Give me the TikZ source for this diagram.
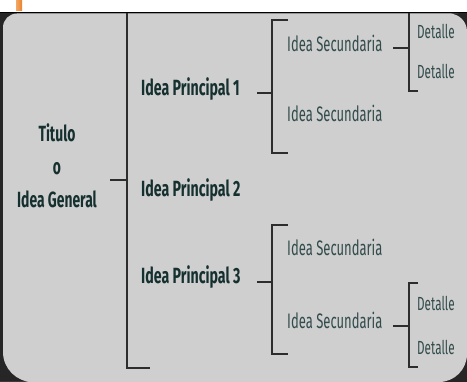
\documentclass[tikz,border=0pt]{standalone}
\usepackage{fontspec}
\usepackage{graphicx}
\setmainfont{Fira Sans}
\definecolor{bg}{RGB}{207,207,207}
\definecolor{ink}{RGB}{22,48,48}
\definecolor{ink2}{RGB}{50,75,75}
\definecolor{ln}{RGB}{45,45,45}
\definecolor{org}{RGB}{235,130,40}
\newcommand{\narp}[1]{\scalebox{0.645}[1]{#1}}
\newcommand{\nars}[1]{\scalebox{0.62}[1]{#1}}
\newcommand{\nard}[1]{\scalebox{0.616}[1]{#1}}
\newcommand{\nart}[1]{\scalebox{0.63}[1]{#1}}
\begin{document}
\begin{tikzpicture}[x=1pt,y=-1pt,
  pri/.style={font=\fontsize{22}{24}\selectfont\bfseries, text=ink, inner sep=0pt, anchor=west},
  sec/.style={font=\fontsize{21}{24}\selectfont, text=ink2, inner sep=0pt, anchor=west},
  det/.style={font=\fontsize{19}{22}\selectfont, text=ink2, inner sep=0pt, anchor=west},
  conn/.style={draw=ln, line width=1.6pt},
  brk/.style={draw=ln, line width=1.6pt}]
\useasboundingbox (0,0) rectangle (467,382);
% background
\fill[white] (0,0) rectangle (467,13);
\fill[black!85] (0,12.5) rectangle (467,382);
\fill[bg] (3,40) -- (3,355) [rounded corners=30pt] -- (3,382) -- (30,382) [sharp corners] -- (440,382) [rounded corners=28pt] -- (467,382) -- (467,355) [sharp corners] -- (467,40) [rounded corners=18pt] -- (467,13.5) -- (440,13.5) [sharp corners] -- (25,13.5) [rounded corners=14pt] -- (3,13.5) -- cycle;
\fill[bg] (3,40) rectangle (467,355);
\draw[black, line width=1.5pt] (0,12.5) -- (467,12.5);
\shade[left color=org!70!white, right color=org] (16,0) rectangle (22,11);

% title
\node[font=\fontsize{22}{33}\selectfont\bfseries, text=ink, align=center, inner sep=0pt] (t) at (57,166) {\nart{Titulo}\\\nart{o}\\\nart{Idea General}};

% principal ideas
\node[pri] (p1) at (141,89) {\narp{Idea Principal 1}};
\node[pri] (p2) at (141,190) {\narp{Idea Principal 2}};
\node[pri] (p3) at (141,277) {\narp{Idea Principal 3}};

% secondary ideas
\node[sec] (s1) at (287,43) {\nars{Idea Secundaria}};
\node[sec] (s2) at (287,113) {\nars{Idea Secundaria}};
\node[sec] (s3) at (287,247) {\nars{Idea Secundaria}};
\node[sec] (s4) at (287,320) {\nars{Idea Secundaria}};

% details
\node[det] (d1) at (417,31) {\nard{Detalle}};
\node[det] (d2) at (417,71) {\nard{Detalle}};
\node[det] (d3) at (417,303) {\nard{Detalle}};
\node[det] (d4) at (417,347) {\nard{Detalle}};

% bracket coordinates
\coordinate (m0) at (110,180);
\coordinate (mt) at (127,13.5);
\coordinate (mb) at (127,368);
\coordinate (mbe) at (150,368);
\coordinate (m1) at (127,180);

\coordinate (a0) at (257,93);
\coordinate (a1) at (272,93);
\coordinate (at) at (272,20);
\coordinate (ate) at (288,20);
\coordinate (ab) at (272,153);
\coordinate (abe) at (288,153);

\coordinate (b0) at (257,282);
\coordinate (b1) at (272,282);
\coordinate (bt) at (272,225);
\coordinate (bte) at (288,225);
\coordinate (bb) at (272,354);
\coordinate (bbe) at (288,354);

\coordinate (c0) at (393,48);
\coordinate (c1) at (409,48);
\coordinate (ct) at (409,13.5);
\coordinate (cb) at (409,91);
\coordinate (cbe) at (418,91);

\coordinate (e0) at (393,326);
\coordinate (e1) at (409,326);
\coordinate (et) at (409,283);
\coordinate (ete) at (418,283);
\coordinate (eb) at (409,367);
\coordinate (ebe) at (418,367);

% connectors and brackets
\draw[conn] (m0) -- (m1);
\draw[brk] (mt) -- (mb) -- (mbe);
\draw[conn] (a0) -- (a1);
\draw[brk] (ate) -- (at) -- (ab) -- (abe);
\draw[conn] (b0) -- (b1);
\draw[brk] (bte) -- (bt) -- (bb) -- (bbe);
\draw[conn] (c0) -- (c1);
\draw[brk] (ct) -- (cb) -- (cbe);
\draw[conn] (e0) -- (e1);
\draw[brk] (ete) -- (et) -- (eb) -- (ebe);
\end{tikzpicture}
\end{document}
